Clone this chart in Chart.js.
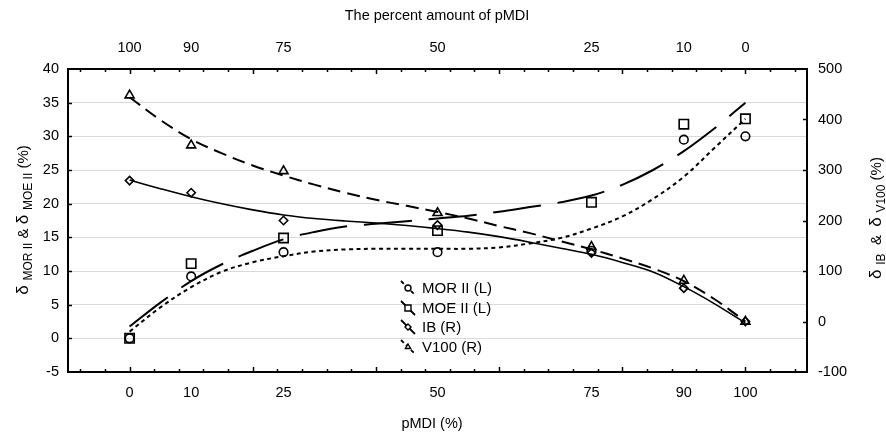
<!DOCTYPE html>
<html>
<head>
<meta charset="utf-8">
<script src="https://cdn.jsdelivr.net/npm/chart.js@4.4.0/dist/chart.umd.min.js"></script>
<style>
  html, body { margin: 0; padding: 0; background: #fff; }
  #wrap { width: 886px; height: 432px; position: relative; }
</style>
</head>
<body>
<div id="wrap"><canvas id="chart"></canvas></div>
<script>
// pMDI share of the binder (%), where samples were made
const pmdi = [0, 10, 25, 50, 75, 90, 100];

// measured relative changes (%) - MOR/MOE on left axis, IB/V100 on right axis
const morII = [0, 9.2, 12.8, 12.8, 13.0, 29.5, 30.0];
const moeII = [0, 11.1, 14.9, 16.0, 20.2, 31.8, 32.6];
const ib    = [279, 255, 200, 191, 136, 66, 0];
const v100  = [448, 349, 298, 215, 148, 81, 0];

// fitted curves, every 5 %
const fitX   = [0, 5, 10, 15, 20, 25, 30, 35, 40, 45, 50, 55, 60, 65, 70, 75, 80, 85, 90, 95, 100];
const morFit = [1.0, 4.6, 7.6, 9.9, 11.3, 12.2, 12.9, 13.2, 13.3, 13.3, 13.3, 13.3, 13.5, 14.1, 14.9, 16.3, 18.1, 20.7, 24.0, 28.3, 32.6];
const moeFit = [1.75, 5.3, 8.5, 11.0, 13.0, 14.7, 15.8, 16.6, 17.0, 17.4, 17.8, 18.2, 18.8, 19.5, 20.2, 21.2, 22.8, 25.0, 27.8, 31.2, 35.0];
const ibFit  = [280, 263, 247, 233, 221, 211, 204, 199, 195, 190, 184, 177, 168, 157, 145, 133, 117, 98, 69, 35, -3];
const v100Fit = [444, 399, 361, 333, 309, 289, 271, 255, 241, 229, 217, 204, 189, 175, 159, 143, 125, 105, 80, 44, 0];

// tick labels
const bottomTicks = [0, 10, 25, 50, 75, 90, 100];
const topTicks = [100, 90, 75, 50, 25, 10, 0];

const FONT = "'Liberation Sans', Arial, sans-serif";
Chart.defaults.font.family = FONT;
Chart.defaults.font.size = 14.5;
Chart.defaults.color = '#000';

const xy = (xs, ys) => xs.map((x, i) => ({ x: x, y: ys[i] }));

const series = [
    { label: 'MOR II (L)', pts: morII, fit: morFit, axis: 'y',  style: 'circle',  radius: 4.3, dash: [4, 3.5], width: 2 },
    { label: 'MOE II (L)', pts: moeII, fit: moeFit, axis: 'y',  style: 'rect',    radius: 6.6, dash: [48, 17], width: 2 },
    { label: 'IB (R)',     pts: ib,    fit: ibFit,  axis: 'y1', style: 'rectRot', radius: 4.2, dash: [],       width: 1.6 },
    { label: 'V100 (R)',   pts: v100,  fit: v100Fit, axis: 'y1', style: 'triangle', radius: 5.2, dash: [13, 7], width: 2 }
];

const datasets = [];
series.forEach(s => {
    datasets.push({
        label: s.label,
        data: xy(pmdi, s.pts),
        yAxisID: s.axis,
        showLine: false,
        pointStyle: s.style,
        pointRadius: s.radius,
        pointBorderWidth: 1.6,
        pointBorderColor: '#000',
        pointBackgroundColor: 'rgba(255,255,255,0)',
        order: 0
    });
});
series.forEach(s => {
    datasets.push({
        label: s.label + ' fit',
        data: xy(fitX, s.fit),
        yAxisID: s.axis,
        showLine: true,
        borderColor: '#000',
        borderWidth: s.width,
        borderDash: s.dash,
        tension: 0.35,
        pointRadius: 0,
        order: 1
    });
});

// inward tick marks on all four sides
const tickMarks = {
    id: 'tickMarks',
    afterDraw(chart) {
        const { ctx, chartArea: a, scales } = chart;
        ctx.save();
        ctx.strokeStyle = '#000';
        ctx.lineWidth = 1.5;
        const seg = (x1, y1, x2, y2) => { ctx.beginPath(); ctx.moveTo(x1, y1); ctx.lineTo(x2, y2); ctx.stroke(); };
        for (let v = -8; v <= 108; v += 4) {
            const px = Math.round(scales.x.getPixelForValue(v)) + 0.5;
            const len = v % 20 === 0 ? 5 : 3;
            seg(px, a.top, px, a.top + len);
            seg(px, a.bottom, px, a.bottom - len);
        }
        for (let v = 0; v <= 35; v += 5) {
            const py = Math.round(scales.y.getPixelForValue(v)) + 0.5;
            seg(a.left, py, a.left + 4, py);
        }
        for (let v = 0; v <= 400; v += 100) {
            const py = Math.round(scales.y1.getPixelForValue(v)) + 0.5;
            seg(a.right, py, a.right - 4, py);
        }
        ctx.restore();
    }
};

// text made of parts with subscripts, centred on (x, y), optionally rotated
function drawRich(ctx, parts, x, y, rot) {
    ctx.save();
    ctx.translate(x, y);
    if (rot) ctx.rotate(rot);
    ctx.textBaseline = 'alphabetic';
    ctx.textAlign = 'left';
    let total = 0;
    parts.forEach(p => { ctx.font = p.size + 'px ' + FONT; total += ctx.measureText(p.t).width; });
    let cx = -total / 2;
    parts.forEach(p => {
        ctx.font = p.size + 'px ' + FONT;
        ctx.fillText(p.t, cx, 5 + (p.dy || 0));
        cx += ctx.measureText(p.t).width;
    });
    ctx.restore();
}

const axisTitles = {
    id: 'axisTitles',
    afterDraw(chart) {
        const ctx = chart.ctx;
        ctx.fillStyle = '#000';
        drawRich(ctx, [{ t: 'The percent amount of pMDI', size: 14.5 }], 437, 15, 0);
        drawRich(ctx, [{ t: 'pMDI (%)', size: 14.5 }], 432, 423, 0);
        drawRich(ctx, [
            { t: 'δ ', size: 17 }, { t: 'MOR II', size: 12, dy: 4 },
            { t: ' & ', size: 15 }, { t: 'δ ', size: 17 }, { t: 'MOE II', size: 12, dy: 4 },
            { t: ' (%)', size: 15 }
        ], 23, 220, -Math.PI / 2);
        drawRich(ctx, [
            { t: 'δ ', size: 17 }, { t: 'IB', size: 12, dy: 4 },
            { t: '  &  ', size: 15 }, { t: 'δ ', size: 17 }, { t: 'V100', size: 12, dy: 4 },
            { t: ' (%)', size: 15 }
        ], 876, 218, -Math.PI / 2);
    }
};

// small marker helper for the legend
function marker(ctx, style, x, y, r) {
    ctx.beginPath();
    if (style === 'circle') {
        ctx.arc(x, y, r, 0, Math.PI * 2);
    } else if (style === 'rect') {
        ctx.rect(x - r, y - r, 2 * r, 2 * r);
    } else if (style === 'rectRot') {
        ctx.moveTo(x, y - r); ctx.lineTo(x + r, y); ctx.lineTo(x, y + r); ctx.lineTo(x - r, y); ctx.closePath();
    } else {
        ctx.moveTo(x, y - r); ctx.lineTo(x + r * 0.87, y + r * 0.5); ctx.lineTo(x - r * 0.87, y + r * 0.5); ctx.closePath();
    }
    ctx.fillStyle = '#fff';
    ctx.fill();
    ctx.stroke();
}

const insideLegend = {
    id: 'insideLegend',
    afterDraw(chart) {
        const ctx = chart.ctx;
        const x0 = 408, rows = [288, 308, 327, 347];
        ctx.save();
        ctx.font = '15px ' + FONT;
        ctx.textBaseline = 'middle';
        ctx.textAlign = 'left';
        series.forEach((s, i) => {
            const y = rows[i];
            ctx.strokeStyle = '#000';
            ctx.lineWidth = 1.8;
            ctx.setLineDash(s.dash.length ? [Math.min(s.dash[0], 4), 3] : []);
            if (s.label.startsWith('MOE')) ctx.setLineDash([]);
            ctx.beginPath();
            ctx.moveTo(x0 - 7, y - 7);
            ctx.lineTo(x0 + 7, y + 7);
            ctx.stroke();
            ctx.setLineDash([]);
            ctx.lineWidth = 1.4;
            marker(ctx, s.style, x0, y, 3);
            ctx.fillStyle = '#000';
            ctx.fillText(s.label, 422, y + 1);
        });
        ctx.restore();
    }
};

new Chart(document.getElementById('chart'), {
    type: 'scatter',
    data: { datasets: datasets },
    plugins: [tickMarks, axisTitles, insideLegend],
    options: {
        responsive: true,
        maintainAspectRatio: false,
        animation: false,
        layout: { padding: 0 },
        plugins: {
            legend: { display: false },
            tooltip: { enabled: false }
        },
        scales: {
            x: {
                type: 'linear',
                position: 'bottom',
                min: -10,
                max: 110,
                afterBuildTicks: s => { s.ticks = bottomTicks.map(v => ({ value: v })); },
                ticks: { padding: 12, maxRotation: 0, autoSkip: false },
                grid: { drawOnChartArea: false, drawTicks: false },
                border: { color: '#000', width: 2 },
                afterFit: s => { s.height = 60; }
            },
            x2: {
                type: 'linear',
                position: 'top',
                reverse: true,
                min: -10,
                max: 110,
                afterBuildTicks: s => { s.ticks = topTicks.map(v => ({ value: v })); },
                ticks: { padding: 12, maxRotation: 0, autoSkip: false },
                grid: { drawOnChartArea: false, drawTicks: false },
                border: { color: '#000', width: 2 },
                afterFit: s => { s.height = 69; }
            },
            y: {
                position: 'left',
                min: -5,
                max: 40,
                ticks: { stepSize: 5, padding: 9 },
                grid: { color: '#d9d9d9', lineWidth: 1, drawTicks: false },
                border: { color: '#000', width: 2 },
                afterFit: s => { s.width = 68; }
            },
            y1: {
                position: 'right',
                min: -100,
                max: 500,
                ticks: { stepSize: 100, padding: 11 },
                grid: { drawOnChartArea: false, drawTicks: false },
                border: { color: '#000', width: 2 },
                afterFit: s => { s.width = 79; }
            }
        }
    }
});
</script>
</body>
</html>
